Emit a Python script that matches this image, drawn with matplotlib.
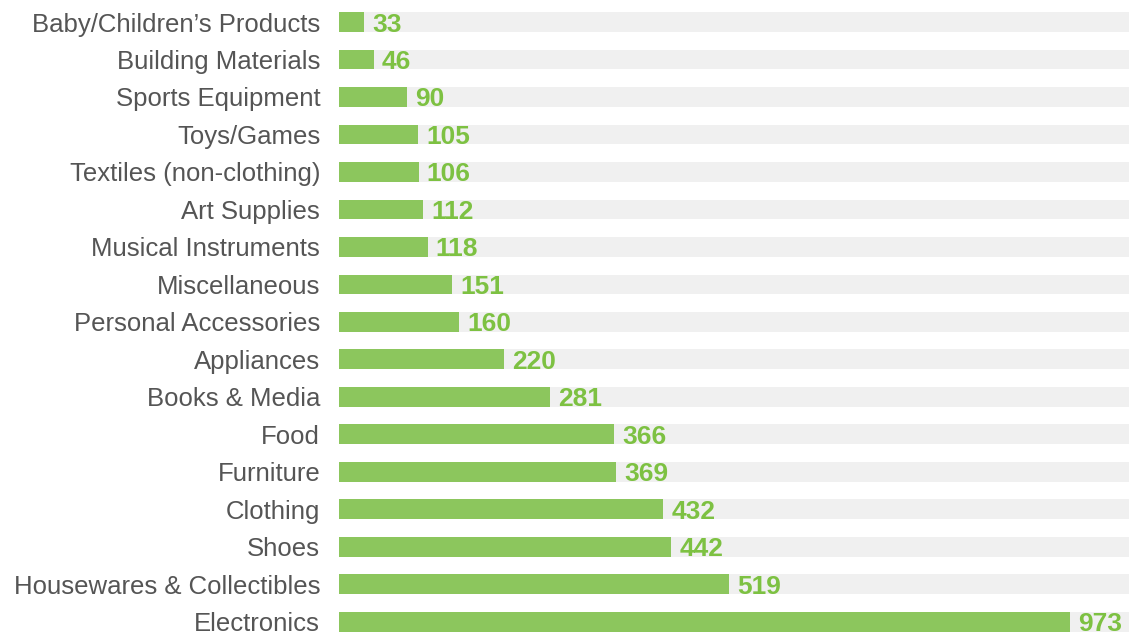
import matplotlib
matplotlib.use("Agg")
from matplotlib import pyplot as plt

categories = ["Baby/Children\u2019s Products", "Building Materials", "Sports Equipment",
              "Toys/Games", "Textiles (non-clothing)", "Art Supplies",
              "Musical Instruments", "Miscellaneous", "Personal Accessories",
              "Appliances", "Books & Media", "Food", "Furniture", "Clothing",
              "Shoes", "Housewares & Collectibles", "Electronics"]
values = [33, 46, 90, 105, 106, 112, 118, 151, 160, 220, 281, 366, 369, 432,
          442, 519, 973]
axis_max = 1052

bar_color = "#8cc65d"
label_color = "#7dc142"
bg_color = "#f0f0f0"

fig = plt.figure(figsize=(11.29, 6.35), dpi=100)
ax = fig.add_axes([339 / 1129, 0, 790 / 1129, 1])

ypos = list(range(len(categories)))
ax.barh(ypos, [axis_max] * len(values), height=0.53, color=bg_color, zorder=1)
ax.barh(ypos, values, height=0.53, color=bar_color, zorder=2)

for y, v, name in zip(ypos, values, categories):
    ax.text(v + 11, y, str(v), va="center_baseline", ha="left", color=label_color,
            fontsize=19, fontweight="bold", family="Liberation Sans", zorder=3)
    ax.text(-25, y, name, va="center_baseline", ha="right", color="#555555",
            fontsize=18.5, family="Liberation Sans", clip_on=False)

ax.set_xlim(0, axis_max)
ax.set_ylim(16.35, -0.587)
ax.axis("off")

fig.savefig("out.png", dpi=100)
